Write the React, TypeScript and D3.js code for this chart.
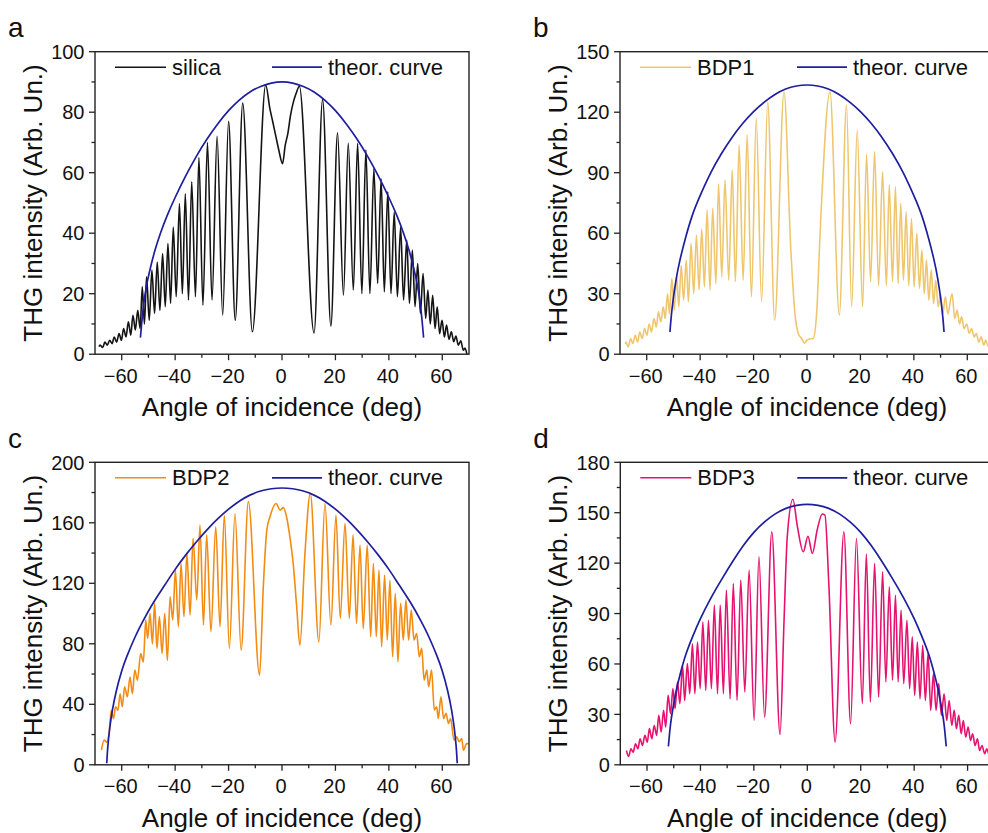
import React from 'react';
import * as d3 from 'd3';

type Pt = [number, number];

// x axis ticks (deg)
const xMajorTicks = [-60, -40, -20, 0, 20, 40, 60];
const xMinorTicks = [-50, -30, -10, 10, 30, 50];

// y ticks per panel
const silicaYTicks = [0, 20, 40, 60, 80, 100];
const bdp1YTicks = [0, 30, 60, 90, 120, 150];
const bdp2YTicks = [0, 40, 80, 120, 160, 200];
const bdp3YTicks = [0, 30, 60, 90, 120, 150, 180];

// measured THG fringes, [angle, intensity]
const silicaData: Pt[] = [
  [-68.5, 2.5], [-68.1, 3], [-67.1, 2.2], [-66.3, 4], [-65.4, 3], [-64.5, 4.6], [-63.6, 3.5], [-62.8, 5.7],
  [-61.9, 4], [-61, 6.8], [-60.1, 4.6], [-59.3, 8.5], [-58.4, 5.7], [-57.5, 10.7], [-56.6, 6.3], [-55.8, 12.9],
  [-54.9, 8], [-54, 14.5], [-53.1, 8.5], [-52.3, 22.3], [-51.5, 10], [-50.7, 25.6], [-49.7, 11.2], [-48.7, 27.8],
  [-47.7, 13.5], [-46.7, 30.5], [-45.7, 14.5], [-44.7, 33.3], [-43.7, 15.7], [-42.7, 36.6], [-41.7, 16.8],
  [-40.7, 42], [-39.6, 19], [-38.4, 49.8], [-37.3, 20], [-36.2, 53], [-35, 17.9], [-33.8, 57], [-32.4, 19],
  [-31.1, 65], [-29.6, 16.2], [-27.9, 70], [-26.2, 17.9], [-24.3, 72], [-22.2, 12.9], [-20, 77], [-17.5, 11.2],
  [-14.7, 83], [-11.1, 7.4], [-6.1, 89], [-4.5, 81], [-3.5, 77], [-2.3, 72], [-1.2, 67.5], [0.2, 63], [1.2, 69],
  [2.2, 73], [3.2, 79], [4.3, 83.5], [5.2, 86], [6.5, 88.6], [12, 7], [15.2, 84.2], [18.3, 9.3], [20.8, 73.2],
  [23, 19.5], [24.8, 69.7], [26.7, 21.2], [28.3, 69.7], [29.9, 20], [31.4, 67.5], [32.9, 20], [34.4, 61.4],
  [35.8, 23.4], [37.1, 58], [38.3, 20.6], [39.6, 53.7], [40.8, 20], [42, 47], [43.2, 19], [44.4, 42], [45.5, 17.9],
  [46.7, 37.7], [47.7, 16.8], [48.8, 34.4], [49.8, 15.7], [50.8, 30], [51.8, 13.5], [52.8, 26.7], [53.8, 11.8],
  [54.6, 21.2], [55.5, 10], [56.4, 19.5], [57.3, 8.5], [58.1, 15.7], [59, 6.8], [59.9, 11.2], [60.8, 5.7],
  [61.6, 9.6], [62.5, 4.9], [63.4, 7.4], [64.3, 4.1], [65.1, 6], [66, 3], [66.9, 4.4], [67.9, 1.3], [68.5, 2],
  [69.2, 0]
];

const bdp1Data: Pt[] = [
  [-68, 5], [-67.8, 6], [-66.9, 3.6], [-66, 7.8], [-65.2, 5.3], [-64.3, 9.4], [-63.4, 6], [-62.6, 11], [-61.7, 7.8],
  [-60.8, 12.7], [-59.9, 9.4], [-59.1, 15], [-58.2, 11], [-57.3, 17.7], [-56.4, 13.5], [-55.6, 21], [-54.7, 16],
  [-53.8, 23.5], [-53.1, 17.7], [-52.2, 30], [-51.5, 20], [-50.6, 37.5], [-49.7, 21.8], [-48.8, 39], [-48, 23.5],
  [-47.1, 44], [-46.2, 26.8], [-45.2, 46.7], [-44.4, 26], [-43.4, 55], [-42.4, 30], [-41.4, 59], [-40.4, 31.8],
  [-39.4, 62], [-38.4, 33.4], [-37.4, 71.5], [-36.3, 31.8], [-35.3, 72.3], [-34.1, 35], [-33.1, 84.4],
  [-31.9, 38.4], [-30.7, 86.4], [-29.3, 36.7], [-28, 91.3], [-26.8, 36], [-25.4, 103.7], [-23.9, 36.7],
  [-22.4, 108.7], [-20.8, 28.5], [-19, 117], [-17, 26], [-14.7, 125], [-12.1, 16.9], [-8.6, 130], [-6.1, 53],
  [-4.5, 20], [-3.2, 10], [-2, 7.8], [-1, 5.5], [0, 7], [1, 7.5], [2.3, 7.8], [3.6, 20], [4.9, 60], [8.6, 130],
  [12.1, 19.4], [14.8, 123.6], [16.7, 23.5], [18.8, 111], [20.8, 23.5], [22.3, 99], [23.8, 36], [25.3, 100.4],
  [26.8, 34], [28.3, 90.5], [29.7, 34], [30.8, 84], [32, 36], [33.1, 83], [34.1, 35], [35.1, 74.8], [36.1, 36.7],
  [37.1, 70.6], [38.1, 34], [39.1, 67.3], [40.1, 33.4], [41.1, 60], [42.1, 32.6], [43, 51.6], [43.9, 30],
  [44.7, 46.7], [45.6, 26.8], [46.5, 41.7], [47.4, 25], [48.2, 36.7], [49.1, 23.5], [50, 30], [50.8, 20],
  [51.8, 28.5], [52.7, 20], [54.3, 30], [55.3, 17.7], [56.2, 21.8], [57.1, 15], [57.9, 18.5], [58.8, 12.7],
  [59.8, 15], [60.7, 10.3], [61.6, 12.7], [62.6, 8.6], [63.4, 10.3], [64.3, 6], [65.2, 8.6], [66.2, 4.5],
  [66.9, 7], [67.8, 4], [68.6, 6], [69.5, 3.5], [70, 5]
];

const bdp2Data: Pt[] = [
  [-67.6, 9.7], [-66.6, 16.3], [-65.6, 15], [-64.8, 19.6], [-63.9, 36], [-63.1, 30.6], [-62.3, 38.4], [-61.4, 36],
  [-60.6, 47], [-59.8, 38.4], [-58.9, 51.6], [-57.9, 45], [-56.9, 58], [-56, 47], [-55.1, 62.6], [-54.1, 56],
  [-52.9, 73.6], [-51.9, 68], [-51, 95.7], [-50.3, 83.5], [-49.4, 100], [-48.5, 80], [-47.7, 106.7], [-46.8, 77],
  [-45.9, 98], [-44.9, 73.6], [-43.9, 100], [-42.9, 69], [-41.9, 111], [-40.9, 95.7], [-39.9, 128.7],
  [-38.8, 91.3], [-37.8, 133], [-36.7, 98], [-35.6, 139.8], [-34.4, 99], [-33.3, 149.7], [-31.9, 109],
  [-30.7, 158.5], [-29.4, 92.4], [-28.2, 152], [-26.6, 88], [-24.8, 157.4], [-23.2, 91.3], [-21.6, 165],
  [-19.7, 77], [-17.6, 166], [-15.3, 75.8], [-12.6, 174], [-8.4, 59.3], [-7, 117.7], [-5.7, 155], [-4.5, 164],
  [-2.2, 172.8], [-0.7, 168.4], [0.5, 170], [1.7, 164], [3, 150], [4.2, 133], [5.5, 104.5], [6.7, 79],
  [8.6, 140], [10.6, 179.5], [13.8, 81.3], [16.1, 172.8], [18.3, 92.4], [20.2, 165], [21.8, 96.8], [23.6, 159.6],
  [25.2, 96.8], [26.6, 152], [27.9, 93.5], [29.2, 145.3], [30.4, 90], [31.9, 145.3], [33.2, 84.7], [34.2, 133],
  [35.3, 84.7], [36.3, 128.7], [37.3, 78], [38.4, 125.4], [39.4, 82.5], [40.4, 122], [41.4, 71.4], [42.4, 113.3],
  [43.4, 68], [44.4, 106.7], [45.4, 82.5], [46.4, 109], [47.4, 82.5], [48.4, 102.3], [49.4, 82.5], [50.4, 86.8],
  [51.4, 71.4], [52.3, 77], [53.2, 56], [54.2, 62.6], [54.9, 51.6], [56, 62.6], [57, 36.2], [57.9, 38.4],
  [58.5, 30.6], [59.5, 45], [60.5, 30.6], [61.4, 34], [62.3, 27.3], [63.1, 30.6], [64.4, 16.3], [65.4, 18.5],
  [66.3, 15.2], [67.3, 17.4], [67.9, 9.7], [69.1, 14], [70, 14]
];

const bdp3Data: Pt[] = [
  [-67.7, 8.5], [-66.9, 5], [-66, 9.5], [-65.2, 7.5], [-64.3, 12.5], [-63.4, 9.5], [-62.6, 15.5], [-61.7, 11.5],
  [-60.8, 17.5], [-59.9, 13.5], [-59.1, 21.5], [-58.2, 15.5], [-57.3, 23.4], [-56.4, 17.5], [-55.6, 29.4],
  [-54.7, 19.5], [-53.8, 32.4], [-53, 22.5], [-52.1, 41.3], [-51.2, 30.4], [-50.3, 45.3], [-49.5, 33.4],
  [-48.6, 49.3], [-47.7, 36.4], [-46.7, 59.2], [-45.9, 38.3], [-44.9, 60.2], [-44, 42.3], [-43, 72], [-42.1, 42.3],
  [-41.1, 73], [-40.1, 45.3], [-39.1, 85], [-38, 44.3], [-37, 86], [-35.9, 45.3], [-34.8, 95], [-33.6, 42.3],
  [-32.6, 95], [-31.4, 42.3], [-30.3, 103.9], [-28.9, 39.3], [-27.7, 107.9], [-26.3, 38.3], [-24.9, 109.9],
  [-23.4, 43.3], [-21.8, 115.8], [-19.9, 26.4], [-18.1, 123.8], [-16, 28.4], [-13.3, 138.7], [-10.2, 18],
  [-8.7, 86], [-7.5, 135.7], [-5.4, 158], [-3.7, 141.7], [-1.5, 126.8], [0.25, 136], [1.9, 125.8], [3.7, 139.7],
  [5.6, 149.2], [6.6, 148.6], [8.1, 106], [10.4, 13.5], [13.7, 138.7], [16.2, 24.4], [18.4, 134.7], [20.6, 36.4],
  [22.1, 125.4], [23.6, 37.4], [25.2, 119.8], [26.7, 40.3], [28.2, 114.8], [29.4, 49.3], [30.7, 105.9],
  [31.9, 50.3], [33, 100.9], [34, 49.3], [35.1, 92], [36.1, 48.3], [37.3, 86], [38.3, 45.3], [39.3, 76.1],
  [40.2, 41.3], [41.2, 73.1], [42.2, 39.3], [43.2, 71.1], [44.2, 38.3], [45.2, 66.2], [46.2, 32.4], [47.2, 54.2],
  [48.2, 32.4], [49.2, 48.3], [50.2, 29.4], [51.2, 42.3], [52.2, 26.4], [53.1, 38.3], [54.1, 23.4], [55, 32.4],
  [55.8, 21.5], [56.7, 29.4], [57.6, 18.5], [58.4, 26.4], [59.3, 16.5], [60.2, 22.5], [61.1, 14.5], [61.9, 18.5],
  [62.8, 11.5], [63.7, 15.5], [64.5, 8.5], [65.4, 11.5], [66.4, 6.6], [67.2, 9.5], [68.2, 5.5], [69, 8], [70, 6]
];

// theoretical envelopes
const silicaTheor: Pt[] = [
  [-53, 5.5], [-52.6, 9.5], [-52.1, 14], [-51.3, 19.5], [-50.3, 24.5], [-49, 29.5], [-47.5, 34.5], [-45.5, 40],
  [-43, 45.8], [-40, 51.8], [-36, 59], [-32, 65.5], [-28, 71.2], [-24, 76.2], [-20, 80.5], [-16, 84], [-12, 86.7],
  [-8, 88.5], [-4, 89.6], [0, 90], [4, 89.6], [8, 88.5], [12, 86.7], [16, 84], [20, 80.5], [24, 76.2], [28, 71.2],
  [32, 65.5], [36, 59], [40, 51.8], [43, 45.8], [45.5, 40], [47.5, 34.5], [49, 29.5], [50.3, 24.5], [51.3, 19.5],
  [52.1, 14], [52.6, 9.5], [53, 5.5]
];

const bdp1Theor: Pt[] = [
  [-51.3, 11], [-50.9, 17.5], [-50.2, 26], [-49, 37], [-47.5, 47], [-45.5, 57.5], [-43, 68.6], [-40, 78.6],
  [-36, 90], [-32, 99.5], [-28, 107.6], [-24, 114.5], [-20, 120.3], [-16, 125], [-12, 128.8], [-8, 131.5],
  [-4, 133], [0, 133.5], [4, 133], [8, 131.5], [12, 128.8], [16, 125], [20, 120.3], [24, 114.5], [28, 107.6],
  [32, 99.5], [36, 90], [40, 78.6], [43, 68.6], [45.5, 57.5], [47.5, 47], [49, 37], [50.2, 26], [50.9, 17.5],
  [51.3, 11]
];

const bdp2Theor: Pt[] = [
  [-65.6, 1], [-65.2, 12], [-64.5, 24], [-63.5, 36], [-62, 49], [-60, 62], [-58, 72], [-55, 84.5], [-52, 95.2],
  [-48, 107.6], [-44, 118.5], [-40, 129.2], [-36, 138.8], [-32, 147.5], [-28, 155.5], [-24, 162.7], [-20, 169],
  [-16, 174.3], [-12, 178.3], [-8, 181], [-4, 182.5], [0, 183], [4, 182.5], [8, 181], [12, 178.3], [16, 174.3],
  [20, 169], [24, 162.7], [28, 155.5], [32, 147.5], [36, 138.8], [40, 129.2], [44, 118.5], [48, 107.6],
  [52, 95.2], [55, 84.5], [58, 72], [60, 62], [62, 49], [63.5, 36], [64.5, 24], [65.2, 12], [65.6, 1]
];

const bdp3Theor: Pt[] = [
  [-52, 11], [-51.2, 24], [-50.3, 33.5], [-49, 44.5], [-47.5, 54.5], [-45.5, 65.5], [-43, 76], [-40, 87],
  [-36, 99.5], [-32, 110.5], [-28, 120.8], [-24, 130.3], [-20, 138.3], [-16, 144.5], [-12, 149.3], [-8, 152.6],
  [-4, 154.4], [0, 155], [4, 154.4], [8, 152.6], [12, 149.3], [16, 144.5], [20, 138.3], [24, 130.3], [28, 120.8],
  [32, 110.5], [36, 99.5], [40, 87], [43, 76], [45.5, 65.5], [47.5, 54.5], [49, 44.5], [50.3, 33.5], [51.2, 24],
  [52, 11]
];

const FONT = '"Liberation Sans", Arial, sans-serif';
const W = 374;
const H = 302.5;
const BLUE = '#1f1f9e';

const panels = [
  { letter: 'a', name: 'silica', color: '#141414', data: silicaData, theor: silicaTheor, yTicks: silicaYTicks, left: 95, top: 51.7 },
  { letter: 'b', name: 'BDP1', color: '#efc66e', data: bdp1Data, theor: bdp1Theor, yTicks: bdp1YTicks, left: 620, top: 51.7 },
  { letter: 'c', name: 'BDP2', color: '#f28c12', data: bdp2Data, theor: bdp2Theor, yTicks: bdp2YTicks, left: 95, top: 462.3 },
  { letter: 'd', name: 'BDP3', color: '#e5136f', data: bdp3Data, theor: bdp3Theor, yTicks: bdp3YTicks, left: 620.3, top: 462.3 }
];

const fmt = (v: number) => (v < 0 ? '\u2212' + Math.abs(v) : String(v));

function Panel({ cfg }: { cfg: any }) {
  const yMax = cfg.yTicks[cfg.yTicks.length - 1];
  const x = d3.scaleLinear().domain([-70, 70]).range([0, W]);
  const y = d3.scaleLinear().domain([0, yMax]).range([H, 0]);
  const dataLine = d3
    .line<Pt>()
    .x(d => x(d[0]))
    .y(d => y(d[1]))
    .curve(d3.curveMonotoneX);
  const theorLine = d3
    .line<Pt>()
    .x(d => x(d[0]))
    .y(d => y(d[1]))
    .curve(d3.curveNatural);
  const step = cfg.yTicks[1] - cfg.yTicks[0];
  const yMinor = cfg.yTicks.slice(0, -1).map((t: number) => t + step / 2);
  const clipId = `clip-${cfg.letter}`;

  return (
    <g transform={`translate(${cfg.left},${cfg.top})`}>
      <defs>
        <clipPath id={clipId}>
          <rect x={0} y={0} width={W} height={H} />
        </clipPath>
      </defs>
      <text x={-87} y={-14.5} fontSize={28} fontFamily={FONT} fill="#111">
        {cfg.letter}
      </text>

      <g clipPath={`url(#${clipId})`}>
        <path d={dataLine(cfg.data) || ''} fill="none" stroke={cfg.color} strokeWidth={1.6} strokeLinejoin="round" />
        <path d={theorLine(cfg.theor) || ''} fill="none" stroke={BLUE} strokeWidth={1.7} />
      </g>

      {/* legend */}
      <line x1={20} x2={71} y1={15.5} y2={15.5} stroke={cfg.color} strokeWidth={1.6} />
      <text x={77} y={23} fontSize={22} fontFamily={FONT} fill="#111">
        {cfg.name}
      </text>
      <line x1={177} x2={227} y1={15.5} y2={15.5} stroke={BLUE} strokeWidth={1.7} />
      <text x={233} y={23} fontSize={22} fontFamily={FONT} fill="#111">
        theor. curve
      </text>

      {/* x ticks */}
      {xMajorTicks.map(t => (
        <g key={'xt' + t}>
          <line x1={x(t)} x2={x(t)} y1={H} y2={H + 6} stroke="#222" strokeWidth={1.3} />
          <text x={x(t) - 1} y={H + 28.5} fontSize={20} fontFamily={FONT} textAnchor="middle" fill="#111">
            {fmt(t)}
          </text>
        </g>
      ))}
      {xMinorTicks.map(t => (
        <line key={'xm' + t} x1={x(t)} x2={x(t)} y1={H} y2={H + 3.5} stroke="#222" strokeWidth={1.3} />
      ))}

      {/* y ticks */}
      {cfg.yTicks.map((t: number) => (
        <g key={'yt' + t}>
          <line x1={-6} x2={0} y1={y(t)} y2={y(t)} stroke="#222" strokeWidth={1.3} />
          <text x={-10.5} y={y(t) + 7.2} fontSize={20} fontFamily={FONT} textAnchor="end" fill="#111">
            {fmt(t)}
          </text>
        </g>
      ))}
      {yMinor.map((t: number) => (
        <line key={'ym' + t} x1={-3.5} x2={0} y1={y(t)} y2={y(t)} stroke="#222" strokeWidth={1.3} />
      ))}

      <rect x={0} y={0} width={W} height={H} fill="none" stroke="#222" strokeWidth={1.4} />

      {/* axis titles */}
      <text x={W / 2} y={H + 62} fontSize={26} fontFamily={FONT} textAnchor="middle" fill="#111">
        Angle of incidence (deg)
      </text>
      <text
        transform={`translate(${-53},${H / 2}) rotate(-90)`}
        fontSize={26}
        fontFamily={FONT}
        textAnchor="middle"
        fill="#111"
      >
        THG intensity (Arb. Un.)
      </text>
    </g>
  );
}

export default function App() {
  return (
    <svg
      width={988}
      height={833}
      style={{ position: 'absolute', left: 0, top: 0, background: '#fff' }}
    >
      <rect width={988} height={833} fill="#fff" />
      {panels.map(p => (
        <Panel key={p.letter} cfg={p} />
      ))}
    </svg>
  );
}
